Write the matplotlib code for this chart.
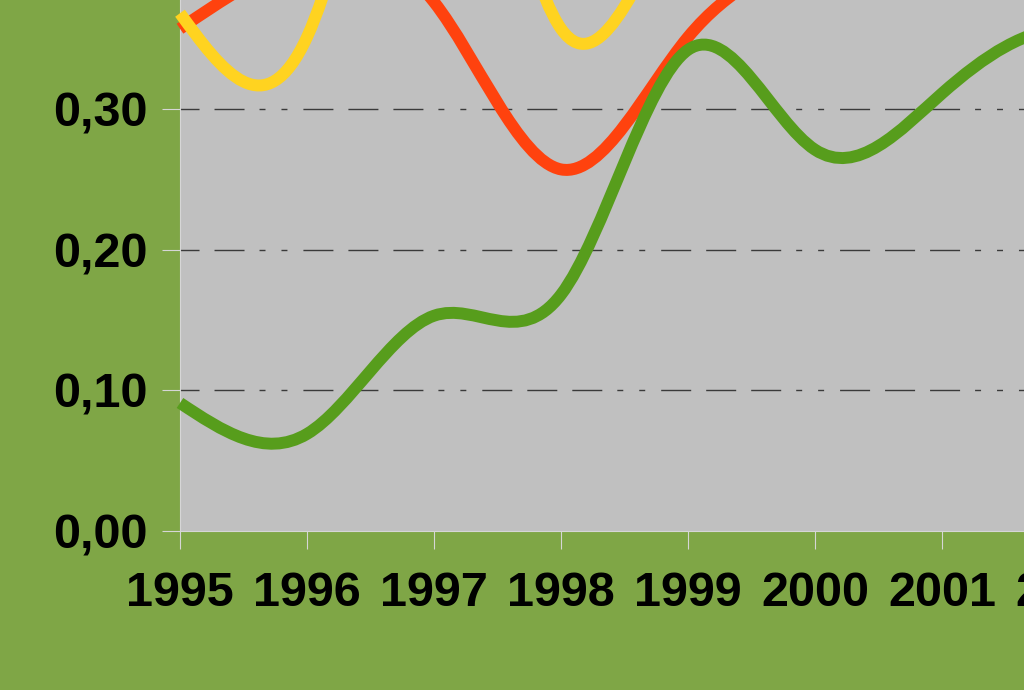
import numpy as np
import matplotlib
matplotlib.use("Agg")
import matplotlib.pyplot as plt
from matplotlib.path import Path
from matplotlib.patches import PathPatch

# data (one value per year, smoothed like the original)
years = [1995, 1996, 1997, 1998, 1999, 2000, 2001, 2002, 2003, 2004]
blue_vals = [0.380, 0.500, 0.550, 0.560, 0.580, 0.600, 0.600, 0.610, 0.620, 0.620]
red_vals = [0.357, 0.407, 0.376, 0.257, 0.351, 0.418, 0.479, 0.465, 0.471, 0.470]
yellow_vals = [0.368, 0.351, 0.585, 0.357, 0.453, 0.500, 0.555, 0.549, 0.550, 0.550]
green_vals = [0.091, 0.069, 0.153, 0.168, 0.342, 0.271, 0.311, 0.357, 0.325, 0.321]

x_ticks = [1995, 1996, 1997, 1998, 1999, 2000, 2001, 2002]
x_labels = ["1995", "1996", "1997", "1998", "1999", "2000", "2001", "2002"]
y_ticks = [0.0, 0.1, 0.2, 0.3]
y_labels = ["0,00", "0,10", "0,20", "0,30"]

BG = "#7fa646"
PLOT_BG = "#c0c0c0"
AXIS_COL = "#d6d6d6"
W, H = 1024, 690


def natural_slopes(y):
    n = len(y)
    a = np.zeros((n, n))
    b = np.zeros(n)
    a[0, 0], a[0, 1], b[0] = 2, 1, 3 * (y[1] - y[0])
    a[-1, -1], a[-1, -2], b[-1] = 2, 1, 3 * (y[-1] - y[-2])
    for i in range(1, n - 1):
        a[i, i - 1], a[i, i], a[i, i + 1] = 1, 4, 1
        b[i] = 3 * (y[i + 1] - y[i - 1])
    return np.linalg.solve(a, b)


def spline_path(x, y):
    # cubic spline through the points, as bezier segments
    m = natural_slopes(y)
    verts = [(x[0], y[0])]
    codes = [Path.MOVETO]
    for i in range(len(y) - 1):
        dx = x[i + 1] - x[i]
        verts += [(x[i] + dx / 3, y[i] + m[i] * dx / 3),
                  (x[i + 1] - dx / 3, y[i + 1] - m[i + 1] * dx / 3),
                  (x[i + 1], y[i + 1])]
        codes += [Path.CURVE4] * 3
    return Path(verts, codes)


plt.rcParams["font.family"] = ["Liberation Sans", "DejaVu Sans"]

fig = plt.figure(figsize=(W / 100, H / 100), dpi=100, facecolor=BG)
ax = fig.add_axes([180 / W, (H - 531) / H, 7.5 * 127 / W, 0.42 * 1407 / H])
ax.set_facecolor(PLOT_BG)
ax.set_xlim(1995, 2002.5)
ax.set_ylim(0, 0.42)

dash = (40.3, (21.6, 10.8, 21.6, 10.8, 21.6, 10.8, 4.3, 11.5, 4.3, 11.5))
for level in y_ticks[1:]:
    ax.axhline(level, color="#3a3a3a", lw=1.0, linestyle=dash, zorder=1)

series = [(blue_vals, "#004586"), (red_vals, "#ff420e"),
          (yellow_vals, "#ffd320"), (green_vals, "#579d1c")]
for vals, col in series:
    ax.add_patch(PathPatch(spline_path(years, vals), fill=False, edgecolor=col,
                           lw=8.6, capstyle="butt", joinstyle="round",
                           clip_on=False, zorder=3))

ax.set_xticks(x_ticks)
ax.set_xticklabels(x_labels)
ax.set_yticks(y_ticks)
ax.set_yticklabels(y_labels)
ax.tick_params(axis="both", direction="out", length=13, width=0.8, color=AXIS_COL,
               labelsize=35, labelcolor="black")
ax.tick_params(axis="x", pad=16)
ax.tick_params(axis="y", pad=10.5)
for lab in ax.get_xticklabels() + ax.get_yticklabels():
    lab.set_fontweight("bold")

for s in ["top", "right"]:
    ax.spines[s].set_visible(False)
for s in ["left", "bottom"]:
    ax.spines[s].set_color(AXIS_COL)
    ax.spines[s].set_linewidth(0.8)
    ax.spines[s].set_zorder(2)

fig.savefig("out.png", dpi=100, facecolor=fig.get_facecolor())
